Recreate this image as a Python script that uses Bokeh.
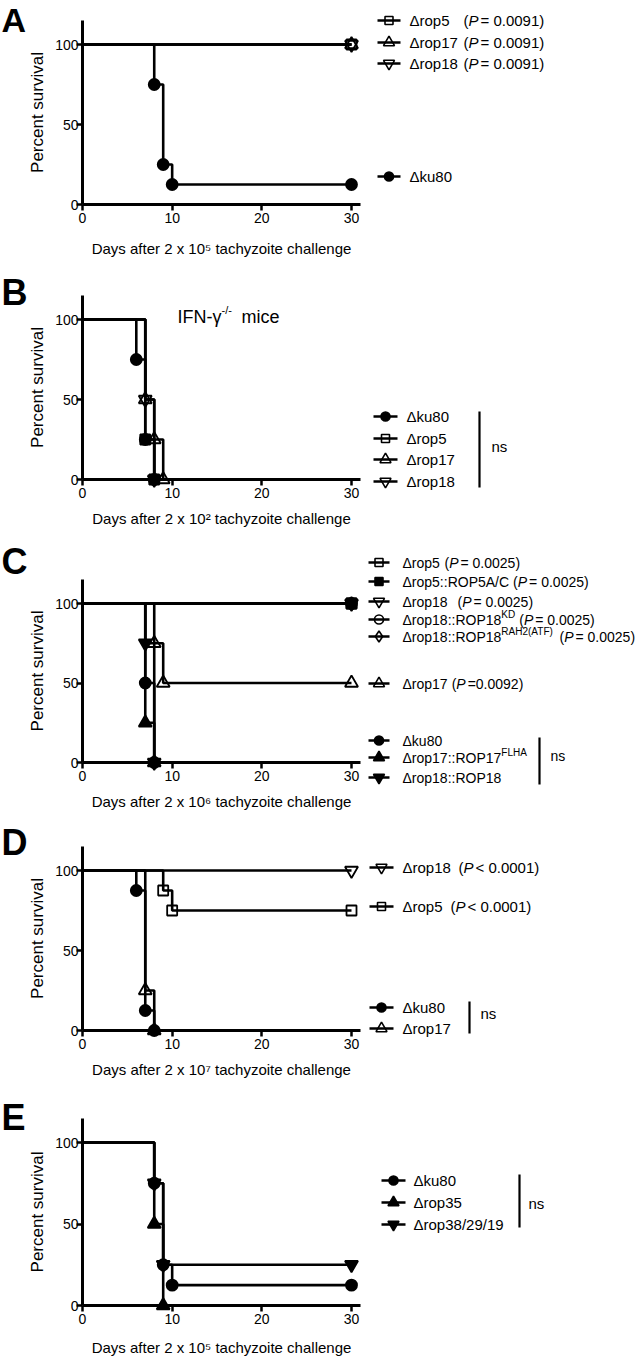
from bokeh.plotting import figure
from bokeh.layouts import column
from bokeh.models import FixedTicker, Range1d
from bokeh.core.properties import value
from bokeh.embed import file_html
from bokeh.resources import INLINE

FONT = "Liberation Sans"

# ---------------- data: step points (day, percent survival) ----------------
# Panel A (2 x 10^5)
A_ku80_days = [0, 8, 9, 10, 30]
A_ku80_surv = [100, 75, 25, 12.5, 12.5]
A_rop5_days = [0, 30]
A_rop5_surv = [100, 100]
A_rop17_days = [0, 30]
A_rop17_surv = [100, 100]
A_rop18_days = [0, 30]
A_rop18_surv = [100, 100]

# Panel B (IFN-g -/- mice, 2 x 10^2)
B_ku80_days = [0, 6, 7, 8]
B_ku80_surv = [100, 75, 25, 0]
B_rop5_days = [0, 7, 8]
B_rop5_surv = [100, 25, 0]
B_rop17_days = [0, 7, 8, 9]
B_rop17_surv = [100, 50, 25, 0]
B_rop18_days = [0, 7, 8]
B_rop18_surv = [100, 50, 0]

# Panel C (2 x 10^6)
C_rop5_days = [0, 30]
C_rop5_surv = [100, 100]
C_rop5AC_days = [0, 30]
C_rop5AC_surv = [100, 100]
C_rop18_days = [0, 30]
C_rop18_surv = [100, 100]
C_rop18KD_days = [0, 30]
C_rop18KD_surv = [100, 100]
C_rop18RAH2_days = [0, 30]
C_rop18RAH2_surv = [100, 100]
C_rop17_days = [0, 8, 9, 30]
C_rop17_surv = [100, 75, 50, 50]
C_ku80_days = [0, 7, 8]
C_ku80_surv = [100, 50, 0]
C_rop17FLHA_days = [0, 7, 8]
C_rop17FLHA_surv = [100, 25, 0]
C_rop18R_days = [0, 7, 8]
C_rop18R_surv = [100, 75, 0]

# Panel D (2 x 10^7)
D_rop18_days = [0, 30]
D_rop18_surv = [100, 100]
D_rop5_days = [0, 9, 10, 30]
D_rop5_surv = [100, 87.5, 75, 75]
D_ku80_days = [0, 6, 7, 8]
D_ku80_surv = [100, 87.5, 12.5, 0]
D_rop17_days = [0, 7, 8]
D_rop17_surv = [100, 25, 0]

# Panel E (2 x 10^5)
E_ku80_days = [0, 8, 9, 10, 30]
E_ku80_surv = [100, 75, 25, 12.5, 12.5]
E_rop35_days = [0, 8, 9]
E_rop35_surv = [100, 50, 0]
E_rop38_days = [0, 8, 9, 30]
E_rop38_surv = [100, 75, 25, 25]

x_ticks = [0, 10, 20, 30]
y_ticks = [0, 50, 100]

x_labels = {
    "A": "Days after 2 x 10\u2075 tachyzoite challenge",
    "B": "Days after 2 x 10\u00b2 tachyzoite challenge",
    "C": "Days after 2 x 10\u2076 tachyzoite challenge",
    "D": "Days after 2 x 10\u2077 tachyzoite challenge",
    "E": "Days after 2 x 10\u2075 tachyzoite challenge",
}
y_label = "Percent survival"

# legend texts: (series key, label, superscript, p-value text)
A_legend = [("rop5", "\u0394rop5", None, "= 0.0091)"),
            ("rop17", "\u0394rop17", None, "= 0.0091)"),
            ("rop18", "\u0394rop18", None, "= 0.0091)"),
            ("ku80", "\u0394ku80", None, None)]
B_legend = [("ku80", "\u0394ku80", None, None),
            ("rop5", "\u0394rop5", None, None),
            ("rop17", "\u0394rop17", None, None),
            ("rop18", "\u0394rop18", None, None)]
C_legend = [("rop5", "\u0394rop5", None, "= 0.0025)"),
            ("rop5AC", "\u0394rop5::ROP5A/C", None, "= 0.0025)"),
            ("rop18", "\u0394rop18", None, "= 0.0025)"),
            ("rop18KD", "\u0394rop18::ROP18", "KD", "= 0.0025)"),
            ("rop18RAH2", "\u0394rop18::ROP18", "RAH2(ATF)", "= 0.0025)"),
            ("rop17", "\u0394rop17", None, "=0.0092)"),
            ("ku80", "\u0394ku80", None, None),
            ("rop17FLHA", "\u0394rop17::ROP17", "FLHA", None),
            ("rop18R", "\u0394rop18::ROP18", None, None)]
D_legend = [("rop18", "\u0394rop18", None, "< 0.0001)"),
            ("rop5", "\u0394rop5", None, "< 0.0001)"),
            ("ku80", "\u0394ku80", None, None),
            ("rop17", "\u0394rop17", None, None)]
E_legend = [("ku80", "\u0394ku80", None, None),
            ("rop35", "\u0394rop35", None, None),
            ("rop38", "\u0394rop38/29/19", None, None)]

series = {
    "A": [("rop5", A_rop5_days, A_rop5_surv), ("rop17", A_rop17_days, A_rop17_surv),
          ("rop18", A_rop18_days, A_rop18_surv), ("ku80", A_ku80_days, A_ku80_surv)],
    "B": [("ku80", B_ku80_days, B_ku80_surv), ("rop5", B_rop5_days, B_rop5_surv),
          ("rop17", B_rop17_days, B_rop17_surv), ("rop18", B_rop18_days, B_rop18_surv)],
    "C": [("rop5", C_rop5_days, C_rop5_surv), ("rop18", C_rop18_days, C_rop18_surv),
          ("rop18KD", C_rop18KD_days, C_rop18KD_surv), ("rop18RAH2", C_rop18RAH2_days, C_rop18RAH2_surv),
          ("rop5AC", C_rop5AC_days, C_rop5AC_surv), ("rop17", C_rop17_days, C_rop17_surv),
          ("ku80", C_ku80_days, C_ku80_surv), ("rop17FLHA", C_rop17FLHA_days, C_rop17FLHA_surv),
          ("rop18R", C_rop18R_days, C_rop18R_surv)],
    "D": [("rop18", D_rop18_days, D_rop18_surv), ("rop5", D_rop5_days, D_rop5_surv),
          ("ku80", D_ku80_days, D_ku80_surv), ("rop17", D_rop17_days, D_rop17_surv)],
    "E": [("ku80", E_ku80_days, E_ku80_surv), ("rop35", E_rop35_days, E_rop35_surv),
          ("rop38", E_rop38_days, E_rop38_surv)],
}
legends = {"A": A_legend, "B": B_legend, "C": C_legend, "D": D_legend, "E": E_legend}

# ---------------- styles ----------------
MARK = {
    "ku80": ("circle", "black"), "rop5": ("square", None), "rop17": ("triangle", None),
    "rop18": ("inverted_triangle", None), "rop5AC": ("square", "black"),
    "rop18KD": ("circle", None), "rop18RAH2": ("diamond", None),
    "rop17FLHA": ("triangle", "black"), "rop18R": ("inverted_triangle", "black"),
    "rop35": ("triangle", "black"), "rop38": ("inverted_triangle", "black"),
}
MSIZE = {"circle": 11, "square": 10, "triangle": 13, "inverted_triangle": 13, "diamond": 13}

# Arial / Liberation Sans advance widths (em/1000)
ADV = {' ': 278, '(': 333, ')': 333, '.': 278, '/': 278, ':': 278, '<': 584, '=': 584, '-': 333,
       'A': 667, 'C': 722, 'D': 722, 'F': 611, 'H': 722, 'I': 278, 'K': 667, 'L': 556, 'N': 722,
       'O': 778, 'P': 667, 'R': 722, 'T': 611, 'a': 556, 'c': 500, 'e': 556, 'i': 222, 'k': 500,
       'm': 833, 'n': 556, 'o': 556, 'p': 556, 'r': 333, 's': 500, 'u': 556,
       '\u0394': 668, '\u03b3': 500}


def tw(s, fs):
    return sum(ADV.get(ch, 556) for ch in s) * fs / 1000.0


# ---------------- layout (page pixels) ----------------
X0, X30 = 82.0, 351.0
SX = (X30 - X0) / 30.0
FIG_W = 638
GEOM = {
    "A": dict(top=0, h=262, y100=44, y0=204, letter=19, lfs=34, lab_standoff=14),
    "B": dict(top=262, h=274, y100=319, y0=479, letter=292, lfs=36, lab_standoff=9),
    "C": dict(top=536, h=274, y100=603, y0=762, letter=561, lfs=36, lab_standoff=9),
    "D": dict(top=810, h=275, y100=870, y0=1030, letter=842, lfs=36, lab_standoff=9),
    "E": dict(top=1085, h=272, y100=1142, y0=1305, letter=1117, lfs=36, lab_standoff=12),
}
LEG = {
    "A": dict(icon=(377, 400), tx=409, fs=15, rows=[20, 42, 63, 176], paren=[463, 463, 463, None],
              bracket=None),
    "B": dict(icon=(373, 397), tx=406, fs=15, rows=[416, 438, 459, 481], paren=[None] * 4,
              bracket=(479, 411, 487, 491, 446)),
    "C": dict(icon=(368, 389), tx=402, fs=14, rows=[562, 581, 601, 619, 636, 683, 740, 757, 777],
              paren=[444, 499, 457, 518, 559, 444, None, None, None],
              bracket=(539, 737, 784, 550, 755)),
    "D": dict(icon=(369, 393), tx=402, fs=15, rows=[867, 906, 1007, 1028], paren=[458, 450, None, None],
              bracket=(469, 1001, 1033, 480, 1013)),
    "E": dict(icon=(381, 405), tx=413, fs=15, rows=[1180, 1202, 1224], paren=[None] * 3,
              bracket=(519, 1174, 1227, 528, 1203)),
}


def X(px):
    return (px - X0) / SX


def make_panel(key):
    g = GEOM[key]
    sy = (g["y0"] - g["y100"]) / 100.0

    def Y(py):
        return (g["y0"] - py) / sy

    def txt(px, py, s, fs, style="normal", baseline="middle"):
        p.text(x=[X(px)], y=[Y(py)], text=[s], text_font=value(FONT),
               text_font_size=value(f"{fs}px"), text_font_style=style,
               text_baseline=baseline, text_align="left", text_color="black")

    p = figure(width=FIG_W, height=g["h"],
               x_range=Range1d(X(0), X(FIG_W)),
               y_range=Range1d(Y(g["top"] + g["h"]), Y(g["top"])),
               output_backend="svg", toolbar_location=None,
               min_border=0, min_border_left=0, min_border_right=0,
               min_border_top=0, min_border_bottom=0)
    p.grid.visible = False
    p.outline_line_color = None
    p.background_fill_color = "white"
    p.border_fill_color = "white"

    # axes
    for ax in (p.xaxis[0], p.yaxis[0]):
        ax.fixed_location = 0
        ax.axis_line_width = 3
        ax.axis_line_color = "black"
        ax.major_tick_line_width = 2.5
        ax.major_tick_line_color = "black"
        ax.major_tick_out = 6
        ax.major_tick_in = 0
        ax.minor_tick_line_color = None
        ax.major_label_text_font = FONT
        ax.major_label_text_font_size = "14px"
        ax.major_label_text_color = "black"
        ax.axis_label_text_font = FONT
        ax.axis_label_text_font_style = "normal"
        ax.axis_label_text_color = "black"
    p.xaxis.ticker = FixedTicker(ticks=x_ticks)
    p.yaxis.ticker = FixedTicker(ticks=y_ticks)
    p.xaxis.bounds = (0, 31)
    p.yaxis.bounds = (0, 115)
    p.xaxis.major_label_standoff = 2
    p.yaxis.major_label_standoff = -2
    p.xaxis.axis_label = x_labels[key]
    p.xaxis.axis_label_text_font_size = "15px"
    p.xaxis.axis_label_standoff = g["lab_standoff"]
    p.yaxis.axis_label = y_label
    p.yaxis.axis_label_text_font_size = "17px"
    p.yaxis.axis_label_standoff = 5

    # survival curves
    for name, d, s in series[key]:
        p.step(x=d, y=s, mode="after", line_width=2.6, line_color="black")
    for name, d, s in series[key]:
        mk, fill = MARK[name]
        p.scatter(x=d[1:], y=s[1:], marker=mk, size=MSIZE[mk], line_color="black",
                  line_width=1.8, fill_color=fill)

    # panel letter
    txt(1, g["letter"], key, g["lfs"], style="bold")

    # legend
    L = LEG[key]
    fs = L["fs"]
    a, b = L["icon"]
    for (name, label, sup, pv), ry, px in zip(legends[key], L["rows"], L["paren"]):
        mk, fill = MARK[name]
        p.segment(x0=[X(a)], y0=[Y(ry)], x1=[X(b)], y1=[Y(ry)], line_width=2.5, line_color="black")
        p.scatter(x=[X((a + b) / 2)], y=[Y(ry)], marker=mk, size=MSIZE[mk] - 2,
                  line_color="black", line_width=1.6, fill_color=fill)
        tx = L["tx"]
        txt(tx, ry, label, fs)
        end = tx + tw(label, fs)
        if sup:
            sfs = 10
            txt(end, ry - 5, sup, sfs)
            end += tw(sup, sfs)
        if pv:
            x1 = max(px, end + 4)
            txt(x1, ry, "(", fs)
            x2 = x1 + tw("(", fs)
            txt(x2, ry, "P", fs, style="italic")
            x3 = x2 + tw("P", fs) + 2
            txt(x3, ry, pv, fs)
    if L["bracket"]:
        bx, by0, by1, nx, ny = L["bracket"]
        p.segment(x0=[X(bx)], y0=[Y(by0)], x1=[X(bx)], y1=[Y(by1)], line_width=2.2,
                  line_color="black")
        txt(nx, ny, "ns", fs)

    if key == "B":
        txt(177, 316, "IFN-\u03b3", 18)
        txt(177 + tw("IFN-\u03b3", 18), 309, "-/-", 11)
        txt(241, 316, "mice", 18)
    return p


layout = column(*[make_panel(k) for k in ["A", "B", "C", "D", "E"]], spacing=0)
open("out.html", "w").write(file_html(layout, INLINE))
